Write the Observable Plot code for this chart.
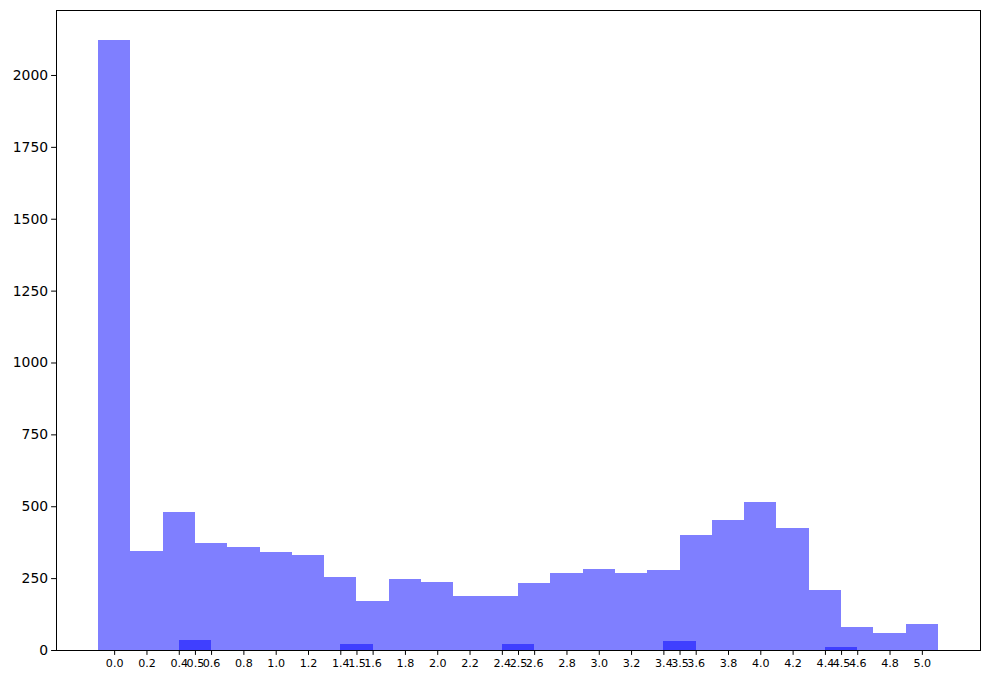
<!DOCTYPE html>
<html>
<head>
<meta charset="utf-8">
<script src="https://cdn.jsdelivr.net/npm/d3@7"></script>
<script src="https://cdn.jsdelivr.net/npm/@observablehq/plot@0.6"></script>
<style>
  html, body { margin: 0; padding: 0; background: #fff; }
  #chart svg, #chart svg text { font-family: "DejaVu Sans", sans-serif; }
</style>
</head>
<body>
<div id="chart"></div>
<script>
// Main histogram: bin centers and counts
const binCenters = [0.0, 0.2, 0.4, 0.6, 0.8, 1.0, 1.2, 1.4, 1.6, 1.8, 2.0, 2.2, 2.4, 2.6, 2.8, 3.0, 3.2, 3.4, 3.6, 3.8, 4.0, 4.2, 4.4, 4.6, 4.8, 5.0];
const binCounts  = [2120, 344, 480, 372, 358, 341, 330, 254, 170, 247, 236, 188, 188, 233, 268, 282, 268, 278, 400, 452, 515, 424, 209, 80, 59, 90];

// Secondary histogram (overlaid)
const halfCenters = [0.5, 1.5, 2.5, 3.5, 4.5];
const halfCounts  = [35, 21, 21, 31, 10];

// Tick values
const xTicks = [0.0, 0.2, 0.4, 0.5, 0.6, 0.8, 1.0, 1.2, 1.4, 1.5, 1.6, 1.8, 2.0, 2.2, 2.4, 2.5, 2.6, 2.8, 3.0, 3.2, 3.4, 3.5, 3.6, 3.8, 4.0, 4.2, 4.4, 4.5, 4.6, 4.8, 5.0];
const yTicks = [0, 250, 500, 750, 1000, 1250, 1500, 1750, 2000];

const binWidth = 0.2;
const mainData = binCenters.map((c, i) => ({x: c, n: binCounts[i]}));
const halfData = halfCenters.map((c, i) => ({x: c, n: halfCounts[i]}));

const xMin = d3.min(binCenters) - binWidth / 2, xMax = d3.max(binCenters) + binWidth / 2;
const xPad = (xMax - xMin) * 0.05;
const yMax = d3.max(binCounts) * 1.05;

const chart = Plot.plot({
  width: 989,
  height: 680,
  marginLeft: 56,
  marginRight: 9,
  marginTop: 10,
  marginBottom: 30,
  style: {fontFamily: "'DejaVu Sans', sans-serif", fontSize: "13.9px", color: "#000", background: "#fff"},
  x: {domain: [xMin - xPad, xMax + xPad]},
  y: {domain: [0, yMax]},
  marks: [
    Plot.rectY(mainData, {x1: d => d.x - binWidth / 2, x2: d => d.x + binWidth / 2, y: "n", fill: "blue", fillOpacity: 0.5, inset: 0, shapeRendering: "crispEdges"}),
    Plot.rectY(halfData, {x1: d => d.x - binWidth / 2, x2: d => d.x + binWidth / 2, y: "n", fill: "blue", fillOpacity: 0.5, inset: 0, shapeRendering: "crispEdges"}),
    Plot.axisX({ticks: xTicks, tickFormat: d3.format(".1f"), tickSize: 4.9, tickPadding: 3.5, fontSize: 11.1, label: null, stroke: "#000", strokeOpacity: 1}),
    Plot.axisY({ticks: yTicks, tickFormat: d3.format("d"), tickSize: 4.9, tickPadding: 3.5, fontSize: 13.9, label: null, stroke: "#000", strokeOpacity: 1}),
    Plot.frame({stroke: "#000", strokeWidth: 1})
  ]
});
document.getElementById("chart").appendChild(chart);
</script>
</body>
</html>
